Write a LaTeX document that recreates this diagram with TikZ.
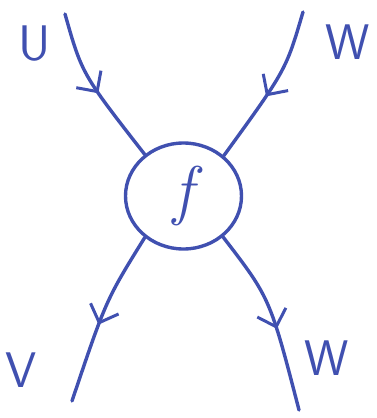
\documentclass[tikz,border=0pt]{standalone}
\usetikzlibrary{arrows.meta,decorations.markings,shapes.geometric}
\definecolor{ink}{RGB}{64,80,176}
\begin{document}
\begin{tikzpicture}[x=1pt,y=-1pt,
  ink line/.style={draw=ink,line width=3.4pt,line cap=round,line join=round},
  midarrow/.style={postaction={decorate,decoration={markings,
     mark=at position #1 with {\arrow[ink]{Straight Barb[length=15pt,width=30pt,line width=3pt]}}}}},
  lab/.style={text=ink,font=\sffamily\fontsize{50}{50}\selectfont,inner sep=0pt},
  vertex/.style={ellipse,ink line,minimum width=116pt,minimum height=106pt,inner sep=0pt,
     text=ink,font=\itshape\fontsize{66}{66}\selectfont}]
\useasboundingbox (0,0) rectangle (377,418);
\node[vertex] (f) at (183.5,196) {f};
\coordinate (a) at (65,14);
\coordinate (b) at (303,12);
\coordinate (c) at (72,401);
\coordinate (d) at (299,410);
\draw[ink line,midarrow=0.53] (a) .. controls (82,74) .. (f.133);
\draw[ink line,midarrow=0.56] (b) .. controls (286,70) .. (f.45);
\draw[ink line,midarrow=0.55] (f.-133) .. controls (106,300) .. (c);
\draw[ink line,midarrow=0.56] (f.-46) .. controls (270,298) .. (d);
\node[lab] (lu) at (35,44) {U};
\node[lab] (lw) at (348,42) {W};
\node[lab] (lv) at (21,370) {V};
\node[lab] (lw2) at (327,358) {W};
\end{tikzpicture}
\end{document}
